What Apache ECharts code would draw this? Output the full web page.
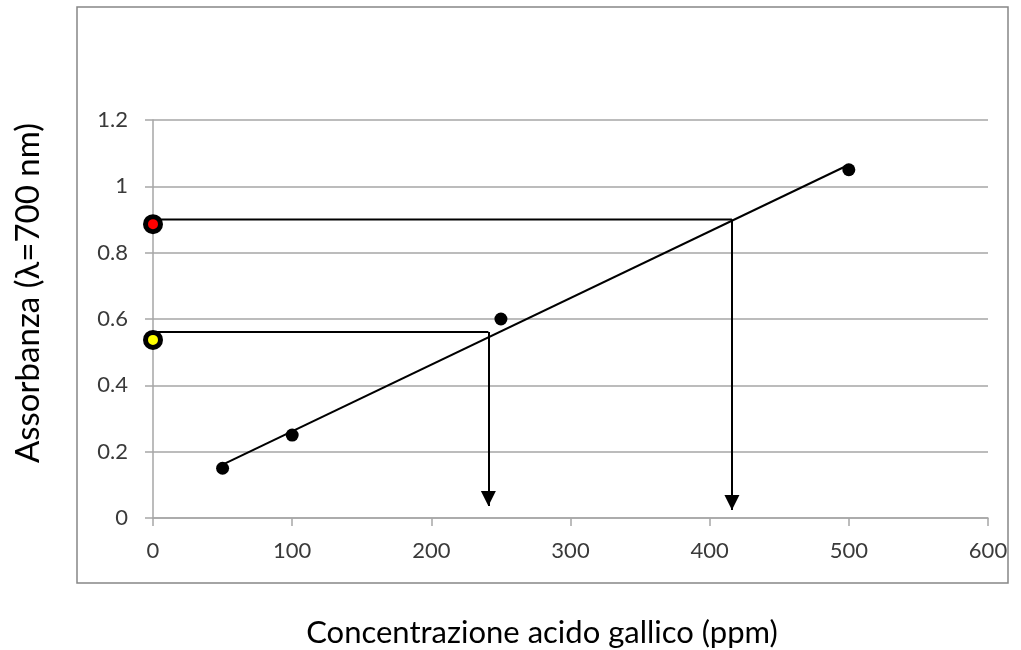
<!DOCTYPE html>
<html>
<head>
<meta charset="utf-8">
<script src="https://cdn.jsdelivr.net/npm/echarts@6/dist/echarts.min.js"></script>
<style>html,body{margin:0;padding:0;background:#fff}#c{width:1021px;height:650px}</style>
</head>
<body>
<div id="c"></div>
<script>
// Standard curve points (ppm, absorbance)
const standardX = [50, 100, 250, 500];
const standardY = [0.15, 0.25, 0.60, 1.05];
// Trend line endpoints
const trendX = [50, 500];
const trendY = [0.161, 1.065];
// Sample readings: [red, yellow]
const sampleColors = ['#ff0000', '#ffff00'];
const sampleY = [0.886, 0.537];
const readLevelY = [0.9, 0.561];
const readX = [416, 241];
const arrowEndY = [0.024, 0.036];
// Axis ticks
const xTicks = [0, 100, 200, 300, 400, 500, 600];
const yTicks = [0, 0.2, 0.4, 0.6, 0.8, 1.0, 1.2];

const FONT = 'Lato';
const chart = echarts.init(document.getElementById('c'));

const readLines = [];
readX.forEach((x, i) => {
  readLines.push({
    type: 'line',
    data: [[0, readLevelY[i]], [x, readLevelY[i]]],
    symbol: 'none',
    lineStyle: {color: '#000', width: 2},
    z: 3,
    silent: true,
    markLine: {
      silent: true,
      symbol: ['none', 'triangle'],
      symbolSize: [15, 15],
      symbolOffset: [[0, 0], [0, 7.5]],
      label: {show: false},
      lineStyle: {color: '#000', width: 2, type: 'solid'},
      data: [[{coord: [x, readLevelY[i]]}, {coord: [x, arrowEndY[i]]}]]
    }
  });
});

chart.setOption({
  animation: false,
  grid: {left: 153, right: 33, top: 120, bottom: 132},
  xAxis: {
    type: 'value',
    min: xTicks[0], max: xTicks[xTicks.length - 1], interval: 100,
    axisLine: {show: true, lineStyle: {color: '#a6a6a6', width: 1.5}},
    axisTick: {show: true, inside: false, length: 8, lineStyle: {color: '#a6a6a6', width: 1.5}},
    splitLine: {show: false},
    axisLabel: {color: '#3a3a3a', fontSize: 22, fontFamily: FONT, margin: 22}
  },
  yAxis: {
    type: 'value',
    min: yTicks[0], max: yTicks[yTicks.length - 1], interval: 0.2,
    axisLine: {show: true, lineStyle: {color: '#a6a6a6', width: 1.5}},
    axisTick: {show: true, inside: false, length: 8, lineStyle: {color: '#a6a6a6', width: 1.5}},
    splitLine: {show: true, lineStyle: {color: '#a6a6a6', width: 1.5}},
    axisLabel: {color: '#3a3a3a', fontSize: 22, fontFamily: FONT, margin: 25,
      formatter: v => String(Math.round(v * 10) / 10)}
  },
  graphic: [
    {type: 'rect', shape: {x: 77, y: 7, width: 931, height: 576}, style: {fill: 'none', stroke: '#868686', lineWidth: 1.5}, z: -1},
    {type: 'text', x: 28, y: 293, rotation: Math.PI / 2,
      style: {text: 'Assorbanza (λ=700 nm)', fontSize: 33, fontFamily: FONT, fill: '#000', align: 'center', verticalAlign: 'middle'}},
    {type: 'text', x: 542, y: 633,
      style: {text: 'Concentrazione acido gallico (ppm)', fontSize: 31, fontFamily: FONT, fill: '#000', align: 'center', verticalAlign: 'middle'}}
  ],
  series: [
    {
      type: 'line',
      data: trendX.map((x, i) => [x, trendY[i]]),
      symbol: 'none',
      lineStyle: {color: '#000', width: 2},
      z: 2, silent: true
    },
    ...readLines,
    {
      type: 'scatter',
      data: standardX.map((x, i) => [x, standardY[i]]),
      symbolSize: 13,
      itemStyle: {color: '#000', opacity: 1},
      z: 5
    },
    {
      type: 'scatter',
      data: sampleY.map((y, i) => ({value: [0, y], itemStyle: {color: sampleColors[i]}})),
      symbolSize: 15,
      itemStyle: {borderColor: '#000', borderWidth: 5, opacity: 1},
      z: 6
    }
  ]
});
</script>
</body>
</html>
